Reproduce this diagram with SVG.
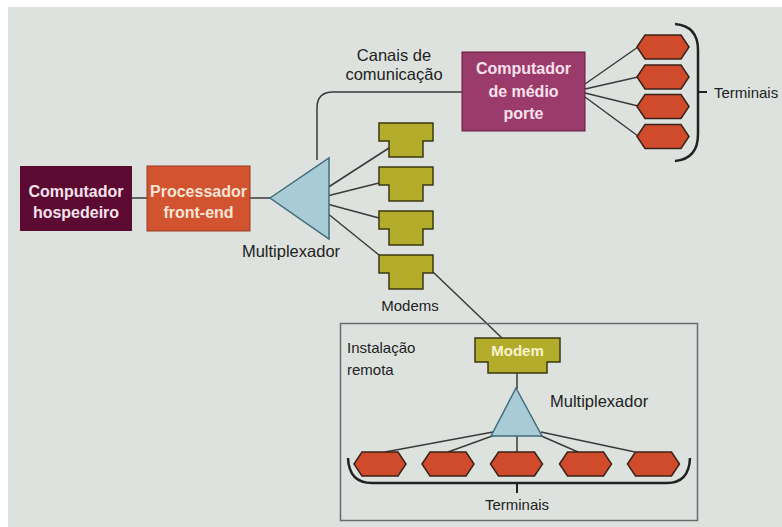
<svg xmlns="http://www.w3.org/2000/svg" xmlns:xlink="http://www.w3.org/1999/xlink" width="782" height="527" viewBox="0 0 782 527">
  <style>
    .lbl { font-family: "Liberation Sans", Arial, sans-serif; font-size: 15px; fill: #222; }
    .big { font-size: 16.5px; }
    .box-txt { font-family: "Liberation Sans", Arial, sans-serif; font-size: 16px; font-weight: bold; text-anchor: middle; }
    .wire { fill: none; stroke: #3a3a3a; stroke-width: 1.5; }
    .term { fill: #cf4b2b; stroke: #3a2218; stroke-width: 1.5; }
    .modem { fill: #b3ac2a; stroke: #3b3812; stroke-width: 1.5; }
    .mux { fill: #a9cbd6; stroke: #3f6d7a; stroke-width: 1.5; }
    .brace { fill: none; stroke: #222; stroke-width: 2.5; }
  </style>
  <defs>
    <polygon id="hex" class="term" points="-26,0 -18,-12 18,-12 26,0 18,12 -18,12"/>
    <path id="modem-shape" class="modem" d="M0,0 H54 V18 H44 V34 H10 V18 H0 Z"/>
  </defs>

  <!-- page -->
  <rect x="0" y="0" width="782" height="527" fill="#ffffff"/>
  <rect x="8" y="7" width="774" height="520" fill="#dde2df"/>

  <!-- connectors -->
  <g id="connectors">
    <line class="wire" x1="132" y1="198" x2="147" y2="198"/>
    <line class="wire" x1="250" y1="198" x2="270" y2="198"/>
    <path class="wire" d="M317,160 V108 Q317,92 333,92 H462"/>
    <line class="wire" x1="585" y1="84" x2="638" y2="47"/>
    <line class="wire" x1="585" y1="89" x2="638" y2="77"/>
    <line class="wire" x1="585" y1="93" x2="638" y2="106"/>
    <line class="wire" x1="585" y1="97" x2="638" y2="136"/>
    <line class="wire" x1="327" y1="188" x2="389" y2="148"/>
    <line class="wire" x1="327" y1="196" x2="379" y2="183"/>
    <line class="wire" x1="327" y1="204" x2="379" y2="218"/>
    <line class="wire" x1="327" y1="213" x2="379" y2="255"/>
    <line class="wire" x1="433" y1="272" x2="503" y2="339"/>
    <line class="wire" x1="517" y1="373" x2="517" y2="389"/>
    <line class="wire" x1="493" y1="432" x2="385" y2="452"/>
    <line class="wire" x1="495" y1="435" x2="448" y2="452"/>
    <line class="wire" x1="517" y1="436" x2="517" y2="452"/>
    <line class="wire" x1="539" y1="435" x2="578" y2="452"/>
    <line class="wire" x1="541" y1="432" x2="635" y2="452"/>
  </g>

  <!-- host computer -->
  <g id="host">
    <rect x="20" y="166" width="112" height="65" fill="#5c0a31"/>
    <text class="box-txt" x="76" y="197" fill="#f6e2ec">Computador</text>
    <text class="box-txt" x="76" y="218" fill="#f6e2ec">hospedeiro</text>
  </g>

  <!-- front-end processor -->
  <g id="front-end">
    <rect x="147" y="166" width="103" height="65" fill="#d1532f" stroke="#9a3a20" stroke-width="1"/>
    <text class="box-txt" x="198.5" y="197" fill="#fbe5d6">Processador</text>
    <text class="box-txt" x="198.5" y="218" fill="#fbe5d6">front-end</text>
  </g>

  <!-- main multiplexer -->
  <g id="mux-main">
    <polygon class="mux" points="270,198 329,158 329,239"/>
    <text class="lbl big" x="291" y="257" text-anchor="middle">Multiplexador</text>
  </g>

  <!-- communication channels label -->
  <g id="channels-label">
    <text class="lbl big" x="394" y="61" text-anchor="middle">Canais de</text>
    <text class="lbl big" x="394" y="80" text-anchor="middle">comunicação</text>
  </g>

  <!-- mid-range computer -->
  <g id="midrange">
    <rect x="462" y="52" width="123" height="79" fill="#9b3b6b" stroke="#5e1e3e" stroke-width="1"/>
    <text class="box-txt" x="523.5" y="74" fill="#f8e1ec">Computador</text>
    <text class="box-txt" x="523.5" y="97" fill="#f8e1ec">de médio</text>
    <text class="box-txt" x="523.5" y="119" fill="#f8e1ec">porte</text>
  </g>

  <!-- terminals of the mid-range computer -->
  <g id="terminals-top">
    <use xlink:href="#hex" x="663" y="47"/>
    <use xlink:href="#hex" x="663" y="77"/>
    <use xlink:href="#hex" x="663" y="106.5"/>
    <use xlink:href="#hex" x="663" y="136.5"/>
    <path class="brace" d="M675,24 Q698,26 698,50 V134 Q698,159 675,161"/>
    <line x1="698" y1="92" x2="707" y2="92" stroke="#222" stroke-width="2"/>
    <text class="lbl" x="714" y="98">Terminais</text>
  </g>

  <!-- modem bank -->
  <g id="modems">
    <use xlink:href="#modem-shape" x="379" y="123"/>
    <use xlink:href="#modem-shape" x="379" y="167"/>
    <use xlink:href="#modem-shape" x="379" y="211"/>
    <use xlink:href="#modem-shape" x="379" y="255"/>
    <text class="lbl" x="410" y="311" text-anchor="middle">Modems</text>
  </g>

  <!-- remote site -->
  <g id="remote-site">
    <rect x="340.5" y="323.5" width="357" height="197" fill="none" stroke="#6a6a6a" stroke-width="1.5"/>
    <text class="lbl" x="347" y="353">Instalação</text>
    <text class="lbl" x="347" y="375">remota</text>
  </g>

  <g id="remote-modem">
    <path class="modem" d="M475,338 H560 V362 H547 V373 H488 V362 H475 Z"/>
    <text class="box-txt" x="517.5" y="356" style="font-size:15px" fill="#f7f3d0">Modem</text>
  </g>

  <g id="remote-mux">
    <polygon class="mux" points="516,388 491,436 542,436"/>
    <text class="lbl big" x="550" y="407">Multiplexador</text>
  </g>

  <g id="terminals-remote">
    <use xlink:href="#hex" x="380" y="464"/>
    <use xlink:href="#hex" x="448" y="464"/>
    <use xlink:href="#hex" x="516.5" y="464"/>
    <use xlink:href="#hex" x="585.5" y="464"/>
    <use xlink:href="#hex" x="653.5" y="464"/>
    <path class="brace" d="M348,458 Q349,483 372,483 H667 Q689,483 690,458"/>
    <line x1="517" y1="483" x2="517" y2="493" stroke="#222" stroke-width="2"/>
    <text class="lbl" x="517" y="510" text-anchor="middle">Terminais</text>
  </g>
</svg>
